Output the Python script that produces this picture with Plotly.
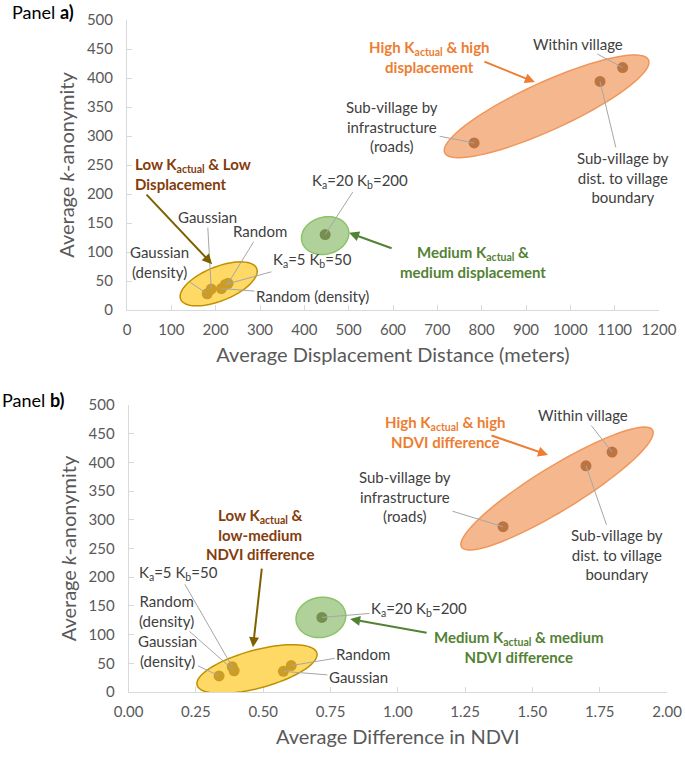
import numpy as np
import plotly.graph_objects as go

W, H = 685, 759

# data
labels = ["Within village", "Sub-village by dist. to village boundary",
          "Sub-village by infrastructure (roads)", "Ka=20 Kb=200",
          "Gaussian", "Random", "Gaussian (density)", "Ka=5 Kb=50", "Random (density)"]
k_anonymity = [418, 394, 288, 130, 36, 46, 28, 44, 37]
displacement_m = [1118, 1067, 783, 447, 190, 228, 181, 222, 213]
ndvi_diff = [1.796, 1.699, 1.391, 0.718, 0.575, 0.604, 0.336, 0.385, 0.392]
groups = ["high", "high", "high", "medium", "low", "low", "low", "low", "low"]

x_ticks_a = list(range(0, 1201, 100))
x_ticks_b = [0, 0.25, 0.5, 0.75, 1.0, 1.25, 1.5, 1.75, 2.0]
y_ticks = list(range(0, 501, 50))

# layout in pixels -> paper domains
dom_xa = [127 / W, 659 / W]
dom_ya = [1 - 310 / H, 1 - 20 / H]
dom_xb = [128.6 / W, 667 / W]
dom_yb = [1 - 692 / H, 1 - 405 / H]
range_xa, range_xb, range_y = [0, 1200], [0, 2], [0, 500]

GREY = "#595959"
TXT = "#404040"
ORANGE, GREEN, GOLD = "#ED7D31", "#548235", "#7F6000"
BROWN = "#843C0C"
FONT = "Lato, 'Open Sans', sans-serif"

fig = go.Figure()
for xs, xa, ya in [(displacement_m, "x", "y"), (ndvi_diff, "x2", "y2")]:
    fig.add_trace(go.Scatter(x=xs, y=k_anonymity, mode="markers", xaxis=xa, yaxis=ya,
                             marker=dict(size=11, color="#7F6A5A"), showlegend=False,
                             hoverinfo="text", text=labels))


def scale(dom_x, rx, dom_y, ry):
    return ((dom_x[1] - dom_x[0]) * W / (rx[1] - rx[0]),
            (dom_y[1] - dom_y[0]) * H / (ry[1] - ry[0]))


def ellipse(xs, ys, idx, sc, a, b, ang, off, xref, yref, fill, line):
    # ellipse around a group of points, sizes in pixels
    sx, sy = sc
    xc = np.mean([xs[i] for i in idx]) + off[0] / sx
    yc = np.mean([ys[i] for i in idx]) - off[1] / sy
    t = np.linspace(0, 2 * np.pi, 80)
    th = np.radians(ang)
    dx = a * np.cos(th) * np.cos(t) - b * np.sin(th) * np.sin(t)
    dy = a * np.sin(th) * np.cos(t) + b * np.cos(th) * np.sin(t)
    px = xc + dx / sx
    py = yc + dy / sy
    path = "M " + " L ".join(f"{u:.5f},{v:.5f}" for u, v in zip(px, py)) + " Z"
    return dict(type="path", path=path, xref=xref, yref=yref, layer="above",
                fillcolor=fill, line=dict(color=line, width=1.5))


idx = {g: [i for i, v in enumerate(groups) if v == g] for g in ["high", "medium", "low"]}
sca = scale(dom_xa, range_xa, dom_ya, range_y)
scb = scale(dom_xb, range_xb, dom_yb, range_y)
fill_o, line_o = "rgba(237,125,49,0.55)", "rgba(240,150,90,1)"
fill_g, line_g = "rgba(112,173,71,0.55)", "rgba(140,195,105,1)"
fill_y, line_y = "rgba(255,192,0,0.6)", "rgba(191,144,0,1)"

shapes = [
    ellipse(displacement_m, k_anonymity, idx["high"], sca, 112, 24, 24.5, (-19, 9), "x", "y", fill_o, line_o),
    ellipse(displacement_m, k_anonymity, idx["medium"], sca, 24, 18.5, 15, (0, 1), "x", "y", fill_g, line_g),
    ellipse(displacement_m, k_anonymity, idx["low"], sca, 41, 17, 22, (0, -4), "x", "y", fill_y, line_y),
    ellipse(ndvi_diff, k_anonymity, idx["high"], scb, 112, 22, 31.5, (-10, 7), "x2", "y2", fill_o, line_o),
    ellipse(ndvi_diff, k_anonymity, idx["medium"], scb, 25, 20, 10, (-1, 0), "x2", "y2", fill_g, line_g),
    ellipse(ndvi_diff, k_anonymity, idx["low"], scb, 62, 19, 15, (5, -1), "x2", "y2", fill_y, line_y),
]

annotations = []

# point labels: (index, text, ax, ay)
lab_a = [
    (0, "Within village", -45, -24),
    (1, "Sub-village by<br>dist. to village<br>boundary", 23, 96),
    (2, "Sub-village by<br>infrastructure<br>(roads)", -82, -16),
    (3, "K<sub>a</sub>=20 K<sub>b</sub>=200", 35, -54),
    (4, "Gaussian", -4, -72),
    (5, "Random", 32, -52),
    (6, "Gaussian<br>(density)", -48, -32),
    (7, "K<sub>a</sub>=5 K<sub>b</sub>=50", 87, -24),
    (8, "Random (density)", 91, 7),
]
lab_b = [
    (0, "Within village", -29, -37),
    (1, "Sub-village by<br>dist. to village<br>boundary", 31, 89),
    (2, "Sub-village by<br>infrastructure<br>(roads)", -98, -30),
    (3, "K<sub>a</sub>=20 K<sub>b</sub>=200", 97, -8),
    (4, "Gaussian", 75, 6),
    (5, "Random", 72, -12),
    (6, "Gaussian<br>(density)", -52, -25),
    (7, "K<sub>a</sub>=5 K<sub>b</sub>=50", -54, -94),
    (8, "Random<br>(density)", -68, -60),
]
for labs, xs, xr, yr in [(lab_a, displacement_m, "x", "y"), (lab_b, ndvi_diff, "x2", "y2")]:
    for i, t, ax, ay in labs:
        annotations.append(dict(x=xs[i], y=k_anonymity[i], xref=xr, yref=yr, text=t,
                                ax=ax, ay=ay, showarrow=True, arrowhead=0, arrowwidth=1,
                                arrowcolor="#A6A6A6", standoff=0, align="center",
                                font=dict(size=15, color=TXT, family=FONT)))

# group labels with arrows
groups_txt = [
    ("x", "y", "High K<sub>actual</sub> & high<br>displacement", 683, 436, "center", ORANGE, 920, 393, -52, -21, ORANGE),
    ("x", "y", "Low K<sub>actual</sub> & Low<br>Displacement", 13, 234, "left", BROWN, 192, 79, -67, -71, GOLD),
    ("x", "y", "Medium K<sub>actual</sub> &<br>medium displacement", 780, 83, "center", GREEN, 501, 133, 44, 16, GREEN),
    ("x2", "y2", "High K<sub>actual</sub> & high<br>NDVI difference", 1.176, 453, "center", ORANGE, 1.558, 413, -58, -20, ORANGE),
    ("x2", "y2", "Low K<sub>actual</sub> &<br>low-medium<br>NDVI difference", 0.488, 275, "center", BROWN, 0.462, 78, 9, -80, GOLD),
    ("x2", "y2", "Medium K<sub>actual</sub> & medium<br>NDVI difference", 1.447, 78, "center", GREEN, 0.823, 127, 78, 14, GREEN),
]
for xr, yr, t, tx, ty, anc, col, hx, hy, ax, ay, acol in groups_txt:
    annotations.append(dict(x=tx, y=ty, xref=xr, yref=yr, text=f"<b>{t}</b>", showarrow=False,
                            xanchor=anc, align=anc, font=dict(size=15, color=col, family=FONT)))
    annotations.append(dict(x=hx, y=hy, xref=xr, yref=yr, text="", showarrow=True, ax=ax, ay=ay,
                            arrowhead=2, arrowsize=1, arrowwidth=2, arrowcolor=acol))

# panel titles
annotations.append(dict(x=10 / W, y=1 - 12 / H, xref="paper", yref="paper", text="Panel <b>a)</b>",
                        showarrow=False, xanchor="left", yanchor="middle",
                        font=dict(size=18, color="black", family=FONT)))
annotations.append(dict(x=0, y=1 - 400 / H, xref="paper", yref="paper", text="Panel <b>b)</b>",
                        showarrow=False, xanchor="left", yanchor="middle",
                        font=dict(size=18, color="black", family=FONT)))

axis_common = dict(showgrid=False, zeroline=False, showline=True, linecolor="#D9D9D9", linewidth=1,
                   ticks="inside", ticklen=5, tickcolor="#D9D9D9", automargin=False,
                   tickfont=dict(size=15, color=GREY, family=FONT))
title_font = dict(size=20, color=GREY, family=FONT)

fig.update_layout(
    width=W, height=H, margin=dict(l=0, r=0, t=0, b=0),
    paper_bgcolor="white", plot_bgcolor="white",
    xaxis=dict(domain=dom_xa, range=range_xa, tickvals=x_ticks_a, anchor="y",
               title=dict(text="Average Displacement Distance (meters)", font=title_font, standoff=10),
               ticklabelstandoff=6, **axis_common),
    yaxis=dict(domain=dom_ya, range=range_y, tickvals=y_ticks, anchor="x",
               title=dict(text="Average <i>k</i>-anonymity", font=title_font, standoff=6),
               ticklabelstandoff=10, **axis_common),
    xaxis2=dict(domain=dom_xb, range=range_xb, tickvals=x_ticks_b, tickformat=".2f", anchor="y2",
                title=dict(text="Average Difference in NDVI", font=title_font, standoff=10),
                ticklabelstandoff=6, **axis_common),
    yaxis2=dict(domain=dom_yb, range=range_y, tickvals=y_ticks, anchor="x2",
                title=dict(text="Average <i>k</i>-anonymity", font=title_font, standoff=6),
                ticklabelstandoff=10, **axis_common),
    shapes=shapes, annotations=annotations,
    font=dict(family=FONT),
)

# page body has a default margin; remove it so the figure fills the window
fig.write_html("out.html", config={"displayModeBar": False},
               post_script="document.body.style.margin='0px';")
